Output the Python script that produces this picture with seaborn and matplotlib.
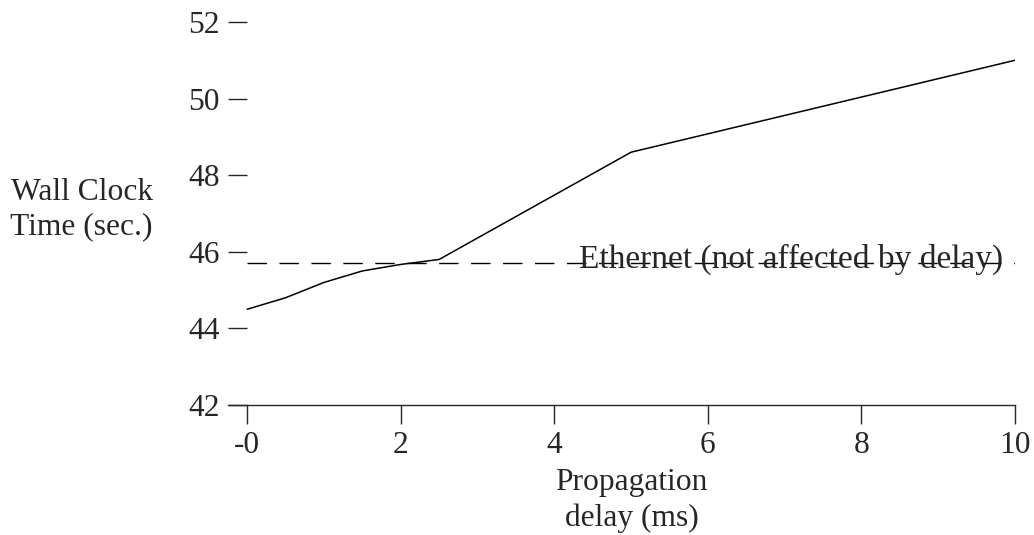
import matplotlib
matplotlib.use("Agg")
import matplotlib.pyplot as plt
import pandas as pd
import seaborn as sns

# values
delay_ms = [0, 0.5, 1, 1.5, 2, 2.5, 5, 10]
wall_time = [44.5, 44.8, 45.2, 45.5, 45.67, 45.8, 48.6, 51.0]
ethernet_time = 45.72
x_ticks = [0, 2, 4, 6, 8, 10]
x_tick_labels = ["-0", "2", "4", "6", "8", "10"]
y_ticks = [42, 44, 46, 48, 50, 52]

sns.set_style("ticks")
plt.rcParams["font.family"] = ["Liberation Serif", "DejaVu Serif"]
fs = 22.7

df = pd.DataFrame({"delay": delay_ms, "time": wall_time})

fig = plt.figure(figsize=(10.34, 5.35), dpi=100)
ax = fig.add_axes([0.2205, 0.243, 0.7611, 0.7159])

sns.lineplot(data=df, x="delay", y="time", color="black", linewidth=1.1, ax=ax)
ax.plot([0, 10], [ethernet_time, ethernet_time], color="black", linewidth=1.0,
        linestyle=(0, (14, 9)))
ax.text(7.08, ethernet_time - 0.14, "Ethernet (not affected by delay)", fontsize=24,
        ha="center", va="baseline")

ax.set_xlim(-0.25, 10)
ax.set_ylim(42, 52)
ax.set_xticks(x_ticks)
ax.set_xticklabels(x_tick_labels)
ax.set_yticks(y_ticks)

for s in ["top", "right", "left"]:
    ax.spines[s].set_visible(False)
ax.spines["bottom"].set_linewidth(1.0)

ax.tick_params(axis="x", direction="out", length=13.5, width=1.0, pad=5, labelsize=fs)
ax.tick_params(axis="y", direction="in", length=13.5, width=1.0, pad=6, labelsize=fs)

ax.set_xlabel("Propagation\ndelay (ms)", fontsize=fs, linespacing=1.3)
ax.xaxis.set_label_coords(0.513, -0.165)
ax.xaxis.label.set_va("top")
ax.set_ylabel("Wall Clock\nTime (sec.)", fontsize=fs, rotation=0, ha="center",
              va="center", linespacing=1.25)
ax.yaxis.set_label_coords(-0.186, 0.51)

fig.savefig("out.png", dpi=100)
